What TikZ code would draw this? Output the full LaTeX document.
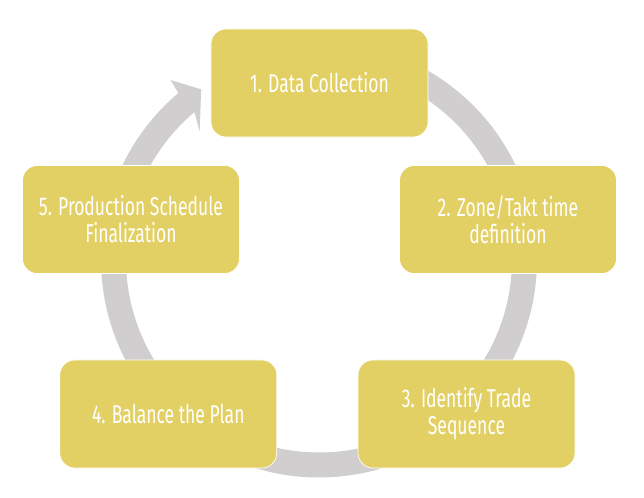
\documentclass[tikz,border=0pt]{standalone}
\usepackage{fontspec}
\setmainfont[FakeStretch=0.68]{Fira Sans}
\usepackage{tikz}
\usetikzlibrary{positioning}
\definecolor{boxfill}{RGB}{227,208,100}
\definecolor{ringgray}{RGB}{208,206,206}

\begin{document}
\begin{tikzpicture}[x=0.03cm, y=0.03cm,
        box/.style={rectangle, rounded corners=0.45cm, fill=boxfill, draw=white, line width=0.6pt,
            minimum width=6.51cm, minimum height=3.24cm, text=white, align=center,
            font=\fontsize{22}{23}\selectfont}]
        \useasboundingbox (0,0) rectangle (644,497);
        % circular arrow behind the boxes
        \coordinate (c) at (319,237.5);
        \begin{scope}[shift={(c)}]
            \fill[ringgray] (95:218) arc[start angle=95, end angle=-229.8, radius=218]
                -- (-230.4:233) -- (-235.3:207) -- (-227:175) -- (-229.8:193)
                arc[start angle=-229.8, end angle=95, radius=193] -- cycle;
        \end{scope}

        \node[box] (collect) at (319.5,414) {1. Data Collection};
        \node[box] (zone) at (508,277.5) {2. Zone/Takt time\\definition};
        \node[box] (trade) at (466.5,83) {3. Identify Trade\\Sequence};
        \node[box] (balance) at (168.3,83) {4. Balance the Plan};
        \node[box] (schedule) at (131,277.5) {5. Production Schedule\\Finalization};
    \end{tikzpicture}
\end{document}
